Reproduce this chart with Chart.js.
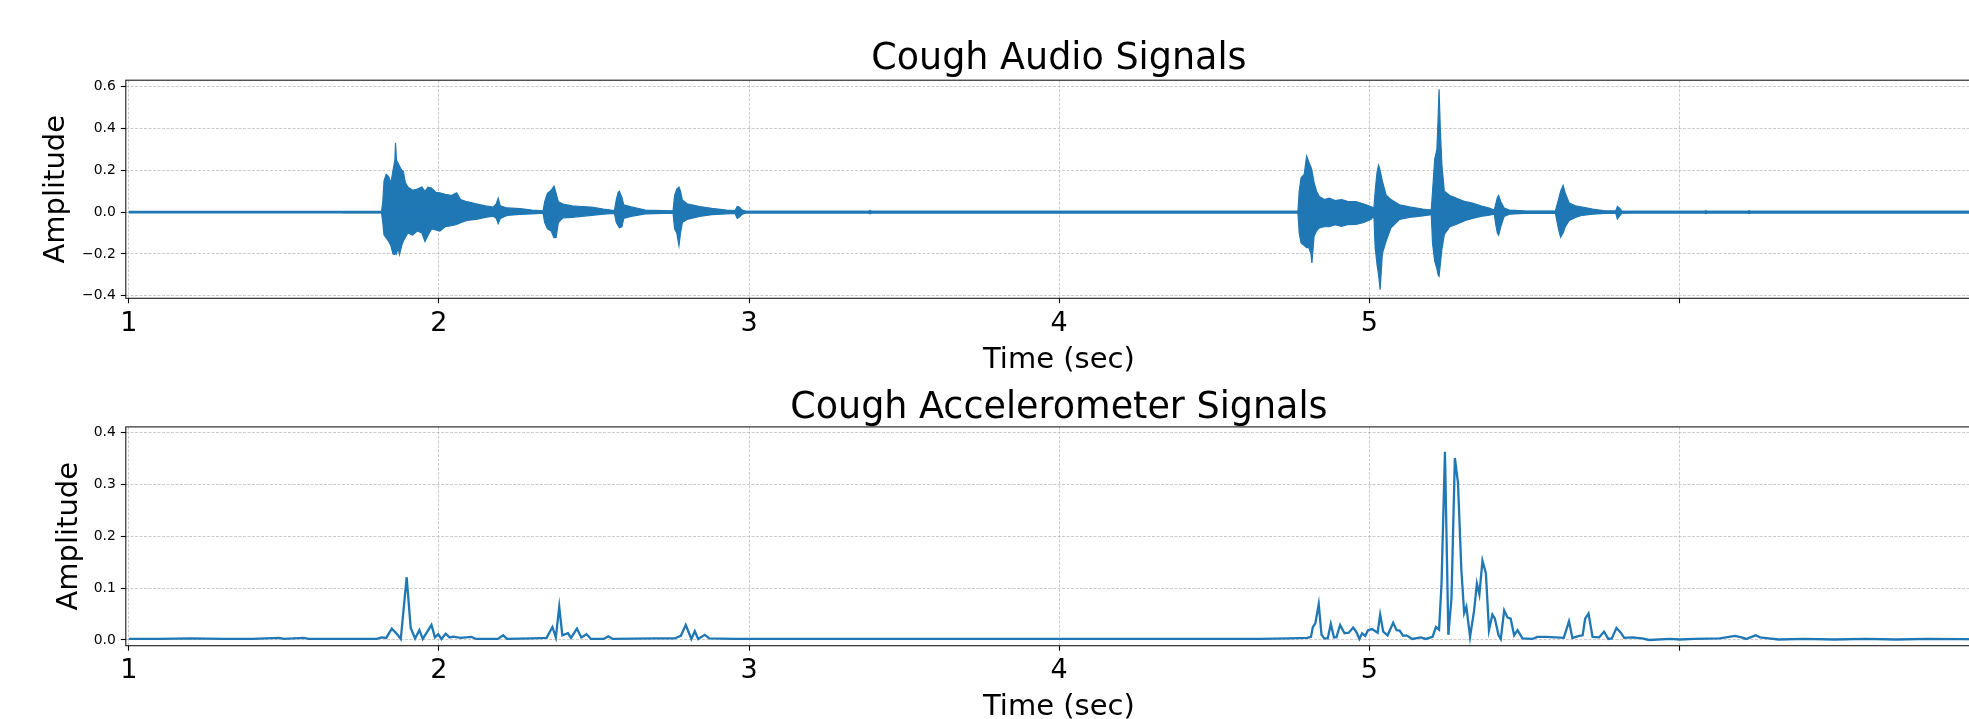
<!DOCTYPE html>
<html>
<head>
<meta charset="utf-8">
<title>Cough Signals</title>
<script src="https://cdn.jsdelivr.net/npm/chart.js@4.4.1/dist/chart.umd.min.js"></script>
<style>
  html, body { margin: 0; padding: 0; background: #fff; overflow: hidden; width: 1969px; height: 719px; }
  #audioChart { position: absolute; left: 0; top: 0; }
  #accelChart { position: absolute; left: 0; top: 370px; }
</style>
</head>
<body>
<canvas id="audioChart" width="1992" height="380"></canvas>
<canvas id="accelChart" width="1992" height="349"></canvas>
<script>
// audio: envelope of the waveform (upper / lower)
const audioTime = [1.69, 1.815, 1.819, 1.823, 1.830, 1.838, 1.845, 1.852, 1.858, 1.860, 1.863, 1.868, 1.873, 1.880, 1.885, 1.892, 1.900, 1.915, 1.930, 1.945, 1.955, 1.965, 1.976, 1.990, 2.003, 2.020, 2.040, 2.057, 2.070, 2.090, 2.120, 2.150, 2.175, 2.185, 2.191, 2.198, 2.220, 2.261, 2.300, 2.336,
  2.341, 2.350, 2.362, 2.371, 2.378, 2.385, 2.400, 2.430, 2.460, 2.493, 2.530, 2.566,
  2.572, 2.578, 2.582, 2.590, 2.596, 2.620, 2.666, 2.755,
  2.760, 2.767, 2.774, 2.779, 2.785, 2.800, 2.841, 2.880, 2.927, 2.955, 2.962, 2.968, 2.978, 2.991,
  3.385, 3.390, 3.395, 4.770,
  4.774, 4.780, 4.790, 4.798, 4.805, 4.812, 4.815, 4.822, 4.830, 4.839, 4.855, 4.871, 4.890, 4.910, 4.930, 4.957, 4.980, 5.005, 5.015,
  5.019, 5.025, 5.030, 5.035, 5.042, 5.054, 5.070, 5.097, 5.130, 5.172, 5.200,
  5.204, 5.211, 5.218, 5.222, 5.225, 5.229, 5.234, 5.242, 5.260, 5.280, 5.310, 5.333, 5.360, 5.387, 5.403,
  5.408, 5.413, 5.417, 5.424, 5.435, 5.452, 5.500, 5.600,
  5.610, 5.617, 5.625, 5.632, 5.645, 5.665, 5.687, 5.720, 5.760, 5.795, 5.800, 5.806, 5.815, 5.850,
  6.080, 6.085, 6.090, 6.220, 6.225, 6.230, 7.010];
const audioUpper = [0.003, 0.003, 0.05, 0.15, 0.181, 0.17, 0.14, 0.2, 0.25, 0.332, 0.25, 0.235, 0.22, 0.2, 0.196, 0.14, 0.12, 0.105, 0.11, 0.12, 0.1, 0.12, 0.115, 0.095, 0.093, 0.085, 0.08, 0.093, 0.06, 0.05, 0.04, 0.03, 0.024, 0.04, 0.066, 0.03, 0.02, 0.017, 0.01, 0.006,
  0.05, 0.09, 0.105, 0.125, 0.09, 0.05, 0.039, 0.03, 0.027, 0.024, 0.015, 0.008,
  0.06, 0.095, 0.1, 0.07, 0.035, 0.025, 0.01, 0.006,
  0.08, 0.11, 0.12, 0.1, 0.058, 0.04, 0.027, 0.018, 0.01, 0.008, 0.027, 0.025, 0.01, 0.004,
  0.004, 0.008, 0.004, 0.004,
  0.1, 0.165, 0.18, 0.269, 0.24, 0.215, 0.2, 0.141, 0.1, 0.075, 0.06, 0.067, 0.055, 0.06, 0.052, 0.051, 0.04, 0.027, 0.02,
  0.1, 0.19, 0.225, 0.2, 0.15, 0.083, 0.06, 0.035, 0.025, 0.015, 0.01,
  0.1, 0.254, 0.3, 0.45, 0.588, 0.4, 0.229, 0.1, 0.08, 0.067, 0.05, 0.043, 0.03, 0.019, 0.01,
  0.04, 0.07, 0.08, 0.05, 0.02, 0.01, 0.006, 0.005,
  0.06, 0.1, 0.128, 0.09, 0.043, 0.03, 0.024, 0.015, 0.006, 0.006, 0.027, 0.02, 0.005, 0.004,
  0.004, 0.007, 0.004, 0.004, 0.007, 0.004, 0.004];
const audioLower = [-0.003, -0.003, -0.05, -0.11, -0.123, -0.14, -0.16, -0.2, -0.203, -0.19, -0.2, -0.17, -0.203, -0.16, -0.139, -0.12, -0.1, -0.11, -0.09, -0.1, -0.14, -0.11, -0.08, -0.085, -0.091, -0.07, -0.065, -0.059, -0.05, -0.04, -0.035, -0.025, -0.019, -0.03, -0.055, -0.03, -0.016, -0.011, -0.008, -0.005,
  -0.05, -0.08, -0.09, -0.123, -0.12, -0.05, -0.027, -0.025, -0.02, -0.015, -0.01, -0.006,
  -0.05, -0.065, -0.075, -0.07, -0.03, -0.02, -0.008, -0.005,
  -0.08, -0.1, -0.16, -0.1, -0.05, -0.035, -0.02, -0.012, -0.008, -0.006, -0.03, -0.025, -0.01, -0.004,
  -0.004, -0.008, -0.004, -0.004,
  -0.1, -0.147, -0.16, -0.17, -0.17, -0.2, -0.243, -0.115, -0.09, -0.075, -0.07, -0.07, -0.06, -0.068, -0.06, -0.059, -0.05, -0.035, -0.02,
  -0.17, -0.25, -0.3, -0.371, -0.2, -0.14, -0.075, -0.035, -0.025, -0.018, -0.012,
  -0.15, -0.235, -0.27, -0.3, -0.307, -0.25, -0.18, -0.107, -0.07, -0.059, -0.04, -0.03, -0.02, -0.015, -0.01,
  -0.06, -0.1, -0.11, -0.07, -0.02, -0.01, -0.006, -0.005,
  -0.08, -0.12, -0.1, -0.07, -0.04, -0.025, -0.015, -0.01, -0.006, -0.006, -0.033, -0.02, -0.005, -0.004,
  -0.004, -0.007, -0.004, -0.004, -0.007, -0.004, -0.004];
const audioBaseTime = [1.0, 7.01];
const audioBase = [0, 0];

// accelerometer
const accelTime = [1.00, 1.10, 1.20, 1.30, 1.40, 1.485, 1.50, 1.564, 1.58, 1.70, 1.80, 1.815, 1.83, 1.848, 1.864, 1.877, 1.896, 1.909, 1.923, 1.937, 1.948, 1.976, 1.987, 1.998, 2.008, 2.022, 2.034, 2.046, 2.07, 2.105, 2.12, 2.19, 2.207, 2.22, 2.30, 2.347, 2.366, 2.377, 2.388, 2.398, 2.416, 2.426, 2.445, 2.459, 2.476, 2.49, 2.53, 2.546, 2.56, 2.70, 2.76, 2.78, 2.796, 2.814, 2.825, 2.836, 2.857, 2.872, 2.95, 3.10, 3.30, 3.50, 3.70, 3.90, 4.10, 4.30, 4.50, 4.65, 4.742,
  4.80, 4.812, 4.818, 4.826, 4.837, 4.846, 4.855, 4.866, 4.876, 4.886, 4.894, 4.906, 4.920, 4.934, 4.948, 4.958, 4.968, 4.977, 4.987, 4.996, 5.009, 5.027, 5.035, 5.045, 5.059, 5.077, 5.088, 5.098, 5.109, 5.120, 5.139, 5.166, 5.182, 5.204, 5.215, 5.225, 5.233, 5.244, 5.255, 5.265, 5.276, 5.286, 5.297, 5.306, 5.313, 5.325, 5.338, 5.347, 5.355, 5.365, 5.376, 5.386, 5.397, 5.405, 5.417, 5.424, 5.435, 5.446, 5.456, 5.467, 5.478, 5.494, 5.526, 5.542, 5.569, 5.600, 5.627, 5.644, 5.655, 5.677, 5.688, 5.696, 5.707, 5.720, 5.741, 5.757, 5.771, 5.782, 5.797, 5.811, 5.822, 5.848, 5.880, 5.902, 5.970, 6.00, 6.05, 6.13, 6.18, 6.20, 6.215, 6.246, 6.26, 6.288, 6.32, 6.40, 6.50, 6.60, 6.70, 6.80, 7.01];
const accelValue = [0.002, 0.002, 0.003, 0.002, 0.002, 0.004, 0.002, 0.004, 0.002, 0.002, 0.002, 0.005, 0.004, 0.022, 0.012, 0.002, 0.121, 0.023, 0.003, 0.019, 0.002, 0.029, 0.005, 0.011, 0.002, 0.012, 0.005, 0.0065, 0.004, 0.006, 0.002, 0.002, 0.009, 0.002, 0.003, 0.004, 0.025, 0.005, 0.064, 0.009, 0.013, 0.004, 0.022, 0.005, 0.011, 0.002, 0.002, 0.007, 0.002, 0.003, 0.003, 0.008, 0.029, 0.002, 0.017, 0.002, 0.01, 0.003, 0.002, 0.002, 0.002, 0.002, 0.002, 0.002, 0.002, 0.002, 0.002, 0.002, 0.003,
  0.004, 0.006, 0.025, 0.032, 0.069, 0.010, 0.003, 0.003, 0.031, 0.005, 0.005, 0.029, 0.013, 0.014, 0.024, 0.016, 0.002, 0.013, 0.008, 0.019, 0.021, 0.014, 0.049, 0.016, 0.009, 0.033, 0.019, 0.018, 0.008, 0.009, 0.002, 0.005, 0.002, 0.006, 0.025, 0.02, 0.109, 0.363, 0.01, 0.08, 0.351, 0.303, 0.134, 0.052, 0.064, 0.006, 0.057, 0.109, 0.088, 0.153, 0.129, 0.019, 0.049, 0.041, 0.009, 0.002, 0.057, 0.043, 0.041, 0.009, 0.019, 0.003, 0.002, 0.006, 0.006, 0.005, 0.004, 0.036, 0.004, 0.008, 0.009, 0.041, 0.051, 0.006, 0.005, 0.016, 0.002, 0.003, 0.023, 0.014, 0.004, 0.005, 0.003, 0.0, 0.002, 0.001, 0.002, 0.003, 0.008, 0.005, 0.002, 0.009, 0.005, 0.003, 0.001, 0.002, 0.001, 0.002, 0.001, 0.002, 0.001];

// ticks
const timeTicks = [1, 2, 3, 4, 5, 6];
const timeTickLabels = ["1", "2", "3", "4", "5", ""];
const audioTicks = [-0.4, -0.2, 0.0, 0.2, 0.4, 0.6];
const accelTicks = [0.0, 0.1, 0.2, 0.3, 0.4];

const FONT = "'DejaVu Sans', sans-serif";
const BLUE = "#1f77b4";

function pts(xs, ys) {
    return xs.map((x, i) => ({ x: x, y: ys[i] }));
}

function fmtTick(v) {
    return v.toFixed(1).replace("-", "\u2212");
}

// matplotlib style frame round the axes
const spines = {
    id: "spines",
    afterDraw(chart) {
        const ctx = chart.ctx;
        const a = chart.chartArea;
        ctx.save();
        ctx.setLineDash([]);
        ctx.strokeStyle = "#1a1a1a";
        ctx.lineWidth = 1.1;
        ctx.strokeRect(a.left, a.top, a.right - a.left, a.bottom - a.top);
        ctx.restore();
    }
};

function makeOptions(o) {
    const grid = {
        color: "rgba(170,170,170,0.75)",
        lineWidth: 0.8,
        tickLength: 5,
        tickColor: "#000",
        tickWidth: 1.1,
        tickBorderDash: []
    };
    return {
        responsive: false,
        animation: false,
        layout: { padding: 0 },
        plugins: {
            legend: { display: false },
            tooltip: { enabled: false },
            title: {
                display: true,
                text: o.title,
                fullSize: false,
                color: "#000",
                font: { family: FONT, size: 36.5, weight: "normal", lineHeight: 1.2 },
                padding: { top: o.titleTop, bottom: o.titleBottom }
            }
        },
        scales: {
            x: {
                type: "linear",
                min: 0.9903,
                max: 7.008,
                grid: grid,
                border: { display: false, dash: [3, 1.5] },
                afterBuildTicks: s => { s.ticks = timeTicks.map(v => ({ value: v })); },
                afterFit: s => { s.height = o.xHeight; },
                ticks: {
                    autoSkip: false,
                    maxRotation: 0,
                    padding: 4.5,
                    color: "#000",
                    font: { family: FONT, size: 27, lineHeight: 1.2 },
                    callback: (v, i) => timeTickLabels[i]
                },
                title: {
                    display: true,
                    text: "Time (sec)",
                    color: "#000",
                    font: { family: FONT, size: 29, lineHeight: 1 },
                    padding: { top: 0, bottom: o.xTitleBottom }
                }
            },
            y: {
                min: o.yMin,
                max: o.yMax,
                grid: grid,
                border: { display: false, dash: [3, 1.5] },
                afterBuildTicks: s => { s.ticks = o.yTicks.map(v => ({ value: v })); },
                afterFit: s => { s.width = 125.8; },
                ticks: {
                    padding: 5,
                    color: "#000",
                    font: { family: FONT, size: 13.9 },
                    callback: v => fmtTick(v)
                },
                title: {
                    display: true,
                    text: "Amplitude",
                    color: "#000",
                    font: { family: FONT, size: 29, lineHeight: 1 },
                    padding: { top: o.yTitleLeft, bottom: 0 }
                }
            }
        }
    };
}

document.addEventListener("DOMContentLoaded", function () {
    // Cough audio
    new Chart(document.getElementById("audioChart"), {
        type: "line",
        data: {
            datasets: [{
                data: pts(audioBaseTime, audioBase),
                borderColor: BLUE,
                borderWidth: 2.6,
                pointRadius: 0,
                fill: false
            }, {
                data: pts(audioTime, audioUpper),
                borderColor: BLUE,
                borderWidth: 1.2,
                pointRadius: 0,
                fill: false
            }, {
                data: pts(audioTime, audioLower),
                borderColor: BLUE,
                backgroundColor: BLUE,
                borderWidth: 1.2,
                pointRadius: 0,
                fill: "-1"
            }]
        },
        options: makeOptions({
            title: "Cough Audio Signals",
            titleTop: 37.4,
            titleBottom: -1,
            xHeight: 81.7,
            xTitleBottom: 5,
            yMin: -0.4124,
            yMax: 0.6316,
            yTicks: audioTicks,
            yTitleLeft: 42
        }),
        plugins: [spines]
    });

    // Cough accelerometer
    new Chart(document.getElementById("accelChart"), {
        type: "line",
        data: {
            datasets: [{
                data: pts(accelTime, accelValue),
                borderColor: BLUE,
                borderWidth: 2.3,
                pointRadius: 0,
                fill: false
            }]
        },
        options: makeOptions({
            title: "Cough Accelerometer Signals",
            titleTop: 16.6,
            titleBottom: -3.5,
            xHeight: 73.3,
            xTitleBottom: -3.4,
            yMin: -0.011,
            yMax: 0.4108,
            yTicks: accelTicks,
            yTitleLeft: 55
        }),
        plugins: [spines]
    });
});
</script>
</body>
</html>
